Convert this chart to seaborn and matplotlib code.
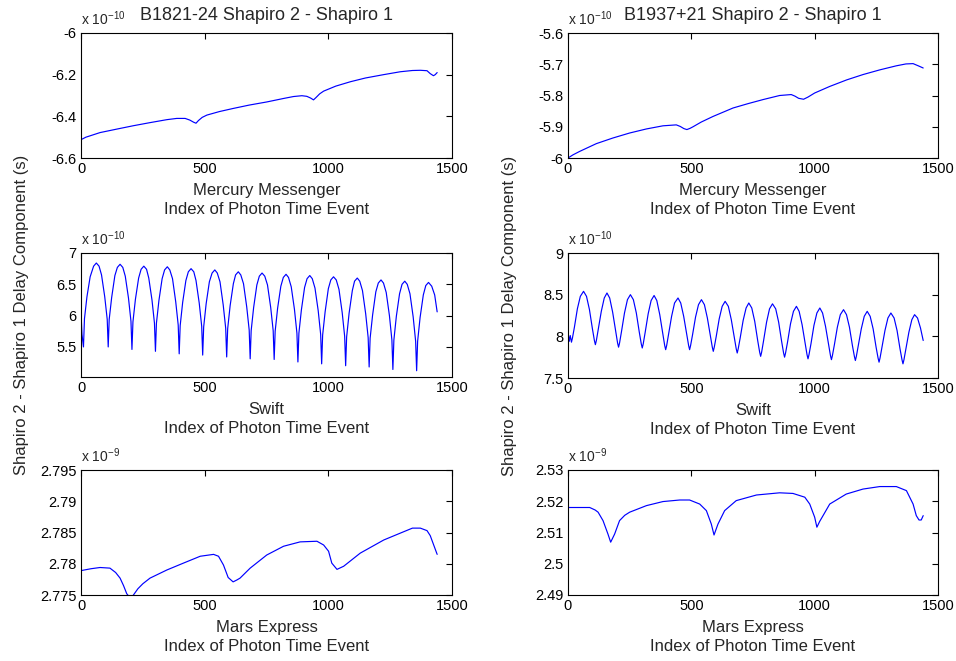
import matplotlib
matplotlib.use("Agg")
import matplotlib.pyplot as plt
from matplotlib.ticker import FuncFormatter, FixedLocator
import seaborn as sns
import pandas as pd

# ---------------- data ----------------
X_TICKS = [0, 500, 1000, 1500]

# Mercury Messenger, B1821-24  (x 1e-10 s)
MERC_A_IDX = [0, 20, 77, 150, 212, 280, 347, 387, 421, 440, 455, 465, 475, 490, 509, 560,
              616, 680, 751, 820, 859, 893, 913, 928, 940, 950, 965, 981, 1030, 1089, 1150,
              1223, 1291, 1340, 1372, 1399, 1412, 1425, 1432, 1440]
MERC_A_VAL = [-6.512, -6.500, -6.478, -6.460, -6.445, -6.430, -6.416, -6.410, -6.410, -6.418,
              -6.428, -6.433, -6.420, -6.405, -6.394, -6.377, -6.362, -6.346, -6.331, -6.314,
              -6.305, -6.301, -6.304, -6.312, -6.321, -6.310, -6.292, -6.279, -6.255, -6.234,
              -6.216, -6.200, -6.186, -6.180, -6.179, -6.181, -6.195, -6.205, -6.200, -6.190]

# Mercury Messenger, B1937+21  (x 1e-10 s)
MERC_B_IDX = [0, 20, 47, 115, 182, 250, 318, 385, 439, 455, 470, 482, 495, 507, 540, 588, 669,
              730, 791, 858, 905, 920, 935, 955, 973, 1000, 1061, 1130, 1196, 1264, 1331, 1370,
              1399, 1420, 1440]
MERC_B_VAL = [-6.000, -5.990, -5.979, -5.954, -5.936, -5.920, -5.907, -5.897, -5.894, -5.899,
              -5.906, -5.909, -5.905, -5.900, -5.885, -5.867, -5.840, -5.826, -5.813, -5.800,
              -5.797, -5.802, -5.809, -5.812, -5.805, -5.792, -5.771, -5.750, -5.733, -5.718,
              -5.705, -5.699, -5.698, -5.705, -5.712]

# Swift, B1821-24  (x 1e-10 s)
SWIFT_A_IDX = [0, 4, 10, 14, 24, 37, 51, 62,
               73, 83, 96, 106, 110, 114, 124, 137, 147, 158,
               169, 179, 192, 202, 206, 210, 220, 233, 243, 254,
               265, 274, 287, 297, 301, 305, 315, 328, 338, 349,
               359, 370, 383, 393, 397, 401, 411, 424, 434, 445,
               456, 465, 478, 488, 492, 496, 506, 519, 530, 541,
               551, 562, 575, 585, 589, 593, 603, 616, 625, 636,
               646, 657, 670, 680, 684, 688, 698, 711, 721, 732,
               743, 754, 767, 777, 781, 785, 795, 808, 818, 829,
               839, 850, 863, 873, 877, 881, 891, 904, 914, 925,
               935, 946, 959, 969, 973, 977, 987, 1000, 1010, 1021,
               1032, 1043, 1056, 1066, 1070, 1074, 1084, 1097, 1106, 1117,
               1127, 1138, 1151, 1161, 1165, 1169, 1179, 1192, 1202, 1213,
               1223, 1234, 1247, 1257, 1261, 1265, 1275, 1288, 1298, 1309,
               1319, 1330, 1343, 1353, 1357, 1361, 1371, 1384, 1394, 1405,
               1418, 1430, 1440]
SWIFT_A_VAL = [6.05, 5.70, 5.50, 5.95, 6.30, 6.62, 6.79, 6.84,
               6.79, 6.65, 6.30, 5.94, 5.50, 5.94, 6.29, 6.64, 6.77, 6.82,
               6.77, 6.63, 6.28, 5.91, 5.46, 5.90, 6.26, 6.60, 6.74, 6.79,
               6.74, 6.60, 6.25, 5.88, 5.43, 5.88, 6.24, 6.59, 6.73, 6.78,
               6.73, 6.59, 6.22, 5.85, 5.39, 5.84, 6.21, 6.56, 6.70, 6.75,
               6.70, 6.56, 6.20, 5.83, 5.37, 5.82, 6.19, 6.54, 6.68, 6.73,
               6.68, 6.54, 6.17, 5.80, 5.34, 5.79, 6.16, 6.51, 6.65, 6.70,
               6.65, 6.51, 6.14, 5.77, 5.31, 5.76, 6.13, 6.49, 6.63, 6.68,
               6.63, 6.49, 6.13, 5.76, 5.30, 5.75, 6.12, 6.47, 6.61, 6.66,
               6.61, 6.46, 6.10, 5.72, 5.26, 5.72, 6.09, 6.45, 6.59, 6.64,
               6.59, 6.44, 6.08, 5.70, 5.23, 5.69, 6.06, 6.43, 6.57, 6.62,
               6.57, 6.42, 6.05, 5.67, 5.20, 5.66, 6.04, 6.40, 6.55, 6.60,
               6.55, 6.40, 6.03, 5.65, 5.18, 5.64, 6.01, 6.38, 6.52, 6.57,
               6.52, 6.37, 6.00, 5.61, 5.14, 5.61, 5.99, 6.35, 6.50, 6.55,
               6.50, 6.35, 5.98, 5.59, 5.12, 5.59, 5.97, 6.33, 6.48, 6.53,
               6.47, 6.33, 6.06]

# Swift, B1937+21  (x 1e-10 s)
SWIFT_B_IDX = [0, 5, 9, 14, 18, 26, 38, 50, 63,
               75, 87, 99, 107, 111, 115, 123, 135, 147, 158,
               169, 181, 193, 201, 205, 209, 217, 229, 241, 253,
               265, 277, 289, 297, 301, 305, 313, 325, 337, 349,
               360, 372, 384, 392, 396, 400, 408, 420, 432, 446,
               457, 469, 481, 489, 493, 497, 505, 517, 529, 541,
               553, 565, 577, 585, 589, 593, 601, 613, 625, 637,
               650, 662, 674, 682, 686, 690, 698, 710, 722, 733,
               745, 757, 769, 777, 781, 785, 793, 805, 817, 829,
               842, 854, 866, 874, 878, 882, 890, 902, 914, 926,
               937, 949, 961, 969, 973, 977, 985, 997, 1009, 1021,
               1032, 1044, 1056, 1064, 1068, 1072, 1080, 1092, 1104, 1117,
               1129, 1141, 1153, 1161, 1165, 1169, 1177, 1189, 1201, 1213,
               1225, 1237, 1249, 1257, 1261, 1265, 1273, 1285, 1297, 1309,
               1322, 1334, 1346, 1354, 1358, 1362, 1370, 1382, 1394, 1405,
               1417, 1429, 1440]
SWIFT_B_VAL = [8.05, 7.94, 8.01, 7.93, 7.98, 8.11, 8.33, 8.48, 8.54,
               8.48, 8.32, 8.09, 7.95, 7.90, 7.95, 8.09, 8.30, 8.46, 8.52,
               8.46, 8.29, 8.07, 7.92, 7.87, 7.92, 8.06, 8.28, 8.44, 8.50,
               8.44, 8.28, 8.05, 7.91, 7.86, 7.91, 8.05, 8.27, 8.43, 8.49,
               8.43, 8.26, 8.04, 7.89, 7.84, 7.89, 8.03, 8.24, 8.40, 8.46,
               8.40, 8.24, 8.03, 7.89, 7.84, 7.89, 8.02, 8.23, 8.38, 8.44,
               8.38, 8.22, 8.01, 7.87, 7.82, 7.87, 8.00, 8.21, 8.36, 8.42,
               8.36, 8.20, 7.99, 7.85, 7.80, 7.85, 7.98, 8.19, 8.34, 8.40,
               8.34, 8.18, 7.95, 7.81, 7.76, 7.81, 7.95, 8.17, 8.33, 8.39,
               8.33, 8.17, 7.94, 7.80, 7.75, 7.80, 7.93, 8.15, 8.30, 8.36,
               8.30, 8.14, 7.92, 7.78, 7.73, 7.78, 7.91, 8.13, 8.28, 8.34,
               8.28, 8.12, 7.91, 7.77, 7.72, 7.77, 7.90, 8.11, 8.26, 8.32,
               8.26, 8.11, 7.89, 7.76, 7.71, 7.76, 7.89, 8.09, 8.24, 8.30,
               8.24, 8.09, 7.87, 7.74, 7.69, 7.74, 7.87, 8.07, 8.22, 8.28,
               8.22, 8.07, 7.85, 7.72, 7.67, 7.72, 7.85, 8.05, 8.20, 8.26,
               8.22, 8.10, 7.95]

# Mars Express, B1821-24  (x 1e-9 s)
MARS_A_IDX = [0, 40, 77, 117, 140, 158, 172, 185, 200, 212, 230, 250, 279, 347, 414, 482, 536,
              556, 576, 595, 615, 630, 643, 684, 751, 819, 886, 954, 981, 1001, 1014, 1035,
              1062, 1129, 1224, 1291, 1340, 1372, 1399, 1412, 1426, 1440]
MARS_A_VAL = [2.7789, 2.7792, 2.7794, 2.7793, 2.7786, 2.7777, 2.7765, 2.7752, 2.7745, 2.7750,
              2.7760, 2.7768, 2.7777, 2.7790, 2.7801, 2.7812, 2.7815, 2.7812, 2.7798, 2.7778,
              2.7771, 2.7774, 2.7777, 2.7793, 2.7814, 2.7828, 2.7835, 2.7836, 2.7830, 2.7820,
              2.7801, 2.7791, 2.7796, 2.7817, 2.7838, 2.7849, 2.7857, 2.7857, 2.7853, 2.7845,
              2.7830, 2.7815]

# Mars Express, B1937+21  (x 1e-9 s)
MARS_B_IDX = [0, 88, 110, 122, 142, 162, 173, 189, 209, 230, 250, 318, 385, 453, 493, 534, 561,
              581, 592, 608, 635, 682, 764, 858, 912, 960, 980, 1000, 1009, 1020, 1034, 1061,
              1128, 1196, 1264, 1331, 1372, 1399, 1412, 1423, 1432, 1440]
MARS_B_VAL = [2.5180, 2.5180, 2.5172, 2.5165, 2.5138, 2.5095, 2.5069, 2.5095, 2.5138, 2.5155,
              2.5165, 2.5186, 2.5199, 2.5204, 2.5204, 2.5191, 2.5170, 2.5127, 2.5092, 2.5127,
              2.5170, 2.5202, 2.5220, 2.5227, 2.5225, 2.5213, 2.5191, 2.5149, 2.5117, 2.5135,
              2.5154, 2.5191, 2.5223, 2.5239, 2.5247, 2.5247, 2.5234, 2.5191, 2.5154, 2.5140,
              2.5140, 2.5154]

TITLES = ["B1821-24 Shapiro 2 - Shapiro 1", "B1937+21 Shapiro 2 - Shapiro 1"]
MISSIONS = ["Mercury Messenger", "Swift", "Mars Express"]
XLABEL_2 = "Index of Photon Time Event"
YLABEL = "Shapiro 2 - Shapiro 1 Delay Component (s)"

# ---------------- style ----------------
sns.set_style("white")
plt.rcParams['font.family'] = ['Liberation Sans', 'DejaVu Sans']
plt.rcParams['axes.unicode_minus'] = False
plt.rcParams['mathtext.fontset'] = 'custom'
plt.rcParams['mathtext.rm'] = 'Liberation Sans'
plt.rcParams['mathtext.it'] = 'Liberation Sans'
plt.rcParams['mathtext.default'] = 'regular'

W, H = 956, 661
fig = plt.figure(figsize=(W / 100, H / 100), dpi=100)
fig.patch.set_facecolor('white')

panels = [
    # (box px: left, top, right, bottom), idx, val, ylim, yticks, exponent, row, col
    ((81, 33, 452, 158), MERC_A_IDX, MERC_A_VAL, (-6.6, -6.0), [-6.6, -6.4, -6.2, -6.0], -10, 0, 0),
    ((568, 33, 938, 158), MERC_B_IDX, MERC_B_VAL, (-6.0, -5.6), [-6.0, -5.9, -5.8, -5.7, -5.6], -10, 0, 1),
    ((81, 253, 452, 377), SWIFT_A_IDX, SWIFT_A_VAL, (5.02, 7.0), [5.5, 6.0, 6.5, 7.0], -10, 1, 0),
    ((568, 253, 938, 378), SWIFT_B_IDX, SWIFT_B_VAL, (7.5, 9.0), [7.5, 8.0, 8.5, 9.0], -10, 1, 1),
    ((81, 470, 452, 595), MARS_A_IDX, MARS_A_VAL, (2.775, 2.795), [2.775, 2.78, 2.785, 2.79, 2.795], -9, 2, 0),
    ((568, 470, 938, 595), MARS_B_IDX, MARS_B_VAL, (2.49, 2.53), [2.49, 2.50, 2.51, 2.52, 2.53], -9, 2, 1),
]

fmt = FuncFormatter(lambda v, p: "{:g}".format(round(v, 6)))

for (l, t, r, b), idx, val, ylim, yticks, expo, row, col in panels:
    ax = fig.add_axes([l / W, 1 - b / H, (r - l) / W, (b - t) / H])
    df = pd.DataFrame({"idx": idx, "val": val})
    sns.lineplot(data=df, x="idx", y="val", ax=ax, color="#0000ff", linewidth=0.85,
                 estimator=None, sort=False)
    ax.set_xlim(0, 1500)
    ax.set_ylim(*ylim)
    ax.xaxis.set_major_locator(FixedLocator(X_TICKS))
    ax.yaxis.set_major_locator(FixedLocator(yticks))
    ax.xaxis.set_major_formatter(fmt)
    ax.yaxis.set_major_formatter(fmt)
    ax.tick_params(direction="in", length=4, width=0.8, top=True, right=True,
                   labelsize=10.5, pad=3, colors="black")
    for sp in ax.spines.values():
        sp.set_visible(True)
        sp.set_color("black")
        sp.set_linewidth(0.8)
    ax.set_facecolor("white")
    ax.set_xlabel(MISSIONS[row] + "\n" + XLABEL_2, fontsize=12, labelpad=5, linespacing=1.3)
    ax.set_ylabel("")
    ax.text(0, 1 + 8 / (b - t), r"x 10$^{%d}$" % expo, transform=ax.transAxes,
            fontsize=10, ha="left", va="baseline")
    if row == 0:
        ax.set_title(TITLES[col], fontsize=13, pad=9)
    if row == 1:
        ax.set_ylabel(YLABEL, fontsize=12)
        ax.yaxis.set_label_coords(-0.14 if col == 0 else -0.137, 0.5)

fig.savefig("out.png", dpi=100, facecolor="white")
